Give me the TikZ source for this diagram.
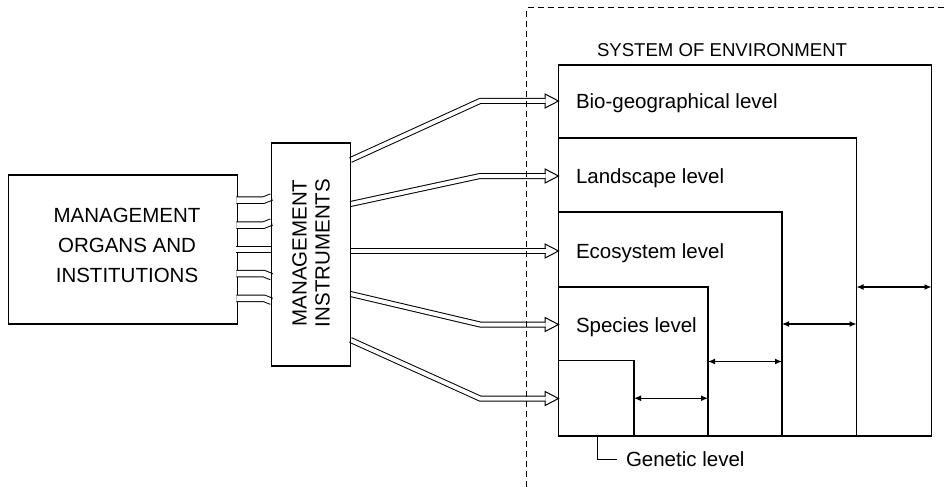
\documentclass[tikz,border=0pt]{standalone}
\usepackage{fontspec}
\setmainfont{Liberation Sans}
\usetikzlibrary{arrows.meta,calc}
\pgfdeclarelayer{under}
\pgfdeclarelayer{links}
\pgfsetlayers{under,links,main}

\begin{document}
\begin{tikzpicture}[x=1pt,y=-1pt,
  boxframe/.style={draw, line width=1.1pt, inner sep=0pt, outer sep=0pt},
  txt/.style={font=\fontsize{20.5}{24}\selectfont, inner sep=0pt, outer sep=0pt},
  pipe/.style={draw=black, line width=1pt, double=white, double distance=5.5pt},
  shaft/.style={draw=black, line width=1pt, double=white, double distance=4pt},
  hollowhead/.style={line width=1pt, line join=miter},
  gaparrow/.style={line width=1.2pt, {Latex[length=7pt,width=6pt]}-{Latex[length=7pt,width=6pt]}},
  envline/.style={line width=1pt, dash pattern=on 6pt off 4pt}
]
\useasboundingbox (0,0) rectangle (946,487);

% organs box sits underneath, so the pipes can open its right edge
\begin{pgfonlayer}{under}
  \node[boxframe, minimum width=229pt, minimum height=149pt] (org) at (122.75,249.5) {};
\end{pgfonlayer}
\node[txt, align=center, font=\fontsize{20.5}{30}\selectfont] (orgtext) at (127,245)
  {MANAGEMENT\\ORGANS AND\\INSTITUTIONS};

% instruments box
\node[boxframe, minimum width=79pt, minimum height=223pt] (instr) at (311,254.5) {};
\node[txt, rotate=90, align=center, font=\fontsize{20.5}{23}\selectfont] (instrtext) at (311,253)
  {MANAGEMENT\\INSTRUMENTS};

% nested levels of the environment, sharing the lower left corner
\coordinate (corner) at (558.5,436);
\node[boxframe, anchor=south west, minimum width=373pt, minimum height=371pt] (bio) at (corner) {};
\node[boxframe, anchor=south west, minimum width=298pt, minimum height=298pt] (land) at (corner) {};
\node[boxframe, anchor=south west, minimum width=223.5pt, minimum height=224pt] (eco) at (corner) {};
\node[boxframe, anchor=south west, minimum width=149.5pt, minimum height=149pt] (spec) at (corner) {};
\node[boxframe, anchor=south west, minimum width=75.5pt, minimum height=75.5pt] (gen) at (corner) {};

\node[txt, anchor=base west] (biolab) at (576,108) {Bio-geographical level};
\node[txt, anchor=base west] (landlab) at (576,183) {Landscape level};
\node[txt, anchor=base west] (ecolab) at (576,258) {Ecosystem level};
\node[txt, anchor=base west] (speclab) at (576,332) {Species level};
\node[txt, anchor=base west, font=\fontsize{18.6}{22}\selectfont] (title) at (597,57) {SYSTEM OF ENVIRONMENT};
\node[txt, anchor=base west] (genlab) at (626,466.5) {Genetic level};

% leader to the genetic level
\draw[line width=1pt] (gen.south -| 597,0) -- (597,459) -- ($(genlab.base west)+(-9,-7.5)$);

% size steps between the levels
\draw[gaparrow] (gen.east) -- (gen.east -| spec.east);
\draw[gaparrow] (spec.east) -- (spec.east -| eco.east);
\draw[gaparrow] (eco.east) -- (eco.east -| land.east);
\draw[gaparrow] (land.east) -- (land.east -| bio.east);

\begin{pgfonlayer}{links}
  % pipes from the organs to the instruments
  \foreach \y/\d in {200/-3, 225/-3, 249.7/0, 273.7/3, 298.3/3}
    \draw[pipe] ($(org.east |- 0,\y)+(-0.8,0)$) -- (264,\y) -- (instr.west |- 0,\y+\d);
  % hollow arrows from the instruments to each level
  \foreach \ys/\yt/\lvl in {160/101/bio, 204/176/land, 251/251/eco, 294/324.5/spec, 340/398.5/gen}{
    \draw[shaft] (instr.east |- 0,\ys) -- (480,\yt) -- (545.5,\yt);
    \draw[hollowhead] (545,\yt-2.5) -- (545,\yt-7) -- (\lvl.west |- 0,\yt) -- (545,\yt+7) -- (545,\yt+2.5);
  }
\end{pgfonlayer}

% boundary of the environment system
\draw[envline] (526.5,487) -- (526.5,8) -- (946,8);
\end{tikzpicture}
\end{document}
